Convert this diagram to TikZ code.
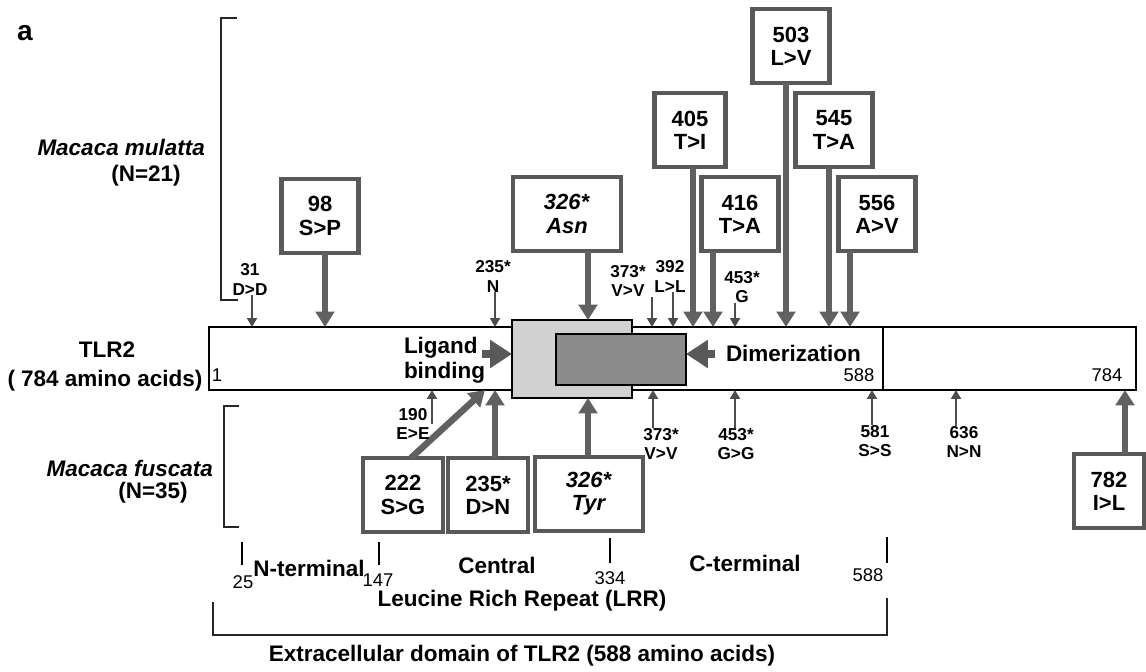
\documentclass[tikz,border=0pt]{standalone}
\usepackage{fontspec}
\setmainfont{Liberation Sans}
\usetikzlibrary{arrows.meta}

\begin{document}
\begin{tikzpicture}[
    x=0.02cm, y=-0.02cm,
    every node/.style={inner sep=0pt, outer sep=0pt},
    mutbox/.style={
        draw=black!65, line width=0.085cm, fill=white,
        align=center,
        minimum width=1.54cm, minimum height=1.48cm,
        font=\fontsize{12.5}{13.2}\selectfont\bfseries
      },
    widebox/.style={mutbox, minimum width=2.16cm},
    sitelabel/.style={align=center, font=\fontsize{9.8}{11}\selectfont\bfseries},
    heading/.style={font=\fontsize{12.8}{14.2}\selectfont\bfseries},
    numlabel/.style={font=\fontsize{10.5}{12}\selectfont},
    bigarrow/.style={draw=black!62, line width=0.13cm,
        -{Triangle[length=0.31cm, width=0.37cm]}},
    thinarrow/.style={draw=black!70, line width=0.04cm,
        -{Triangle[length=0.18cm, width=0.2cm]}},
    blockarrow/.style={draw=black!65, line width=0.18cm,
        -{Triangle[length=0.44cm, width=0.54cm]}},
    bracket/.style={draw=black!85, line width=0.03cm}
  ]

  \useasboundingbox (0,0) rectangle (1146,672);

  % protein bar with the two LRR regions
  \node[draw, line width=0.035cm, fill=white,
        minimum width=18.54cm, minimum height=1.26cm] (bar) at (672.5,358.5) {};
  \coordinate (c588) at (883,327);
  \draw[line width=0.03cm] (c588) -- (c588 |- bar.south);

  \node[draw, line width=0.03cm, fill=black!18,
        minimum width=2.4cm, minimum height=1.56cm] (lig) at (572,359) {};
  \node[draw, line width=0.03cm, fill=black!45,
        minimum width=2.6cm, minimum height=1.02cm] (dim) at (621,359.5) {};

  % sites on top and bottom edge of the bar
  \foreach \n/\px in {31/252, 98/325, 235/495, 326/588, 373/652, 392/673,
                      405/693, 416/713, 453/735, 503/786, 545/829, 556/850}
    \coordinate (t\n) at (\px,327);
  \foreach \n/\px in {190/432, 222/485, 235/495, 326/588, 373/653,
                      453/735, 581/872, 636/956, 782/1125}
    \coordinate (b\n) at (\px,390);

  % side labels
  \node (alabel) at (25,33) {\fontsize{16}{18}\selectfont\bfseries a};
  \node[heading, anchor=east] (mulatta) at (205,147) {\itshape Macaca mulatta};
  \node[heading] (mulattaN) at (146,176) {(N=21)};
  \node[heading, anchor=east] (fuscata) at (213,468) {\itshape Macaca fuscata};
  \node[heading] (fuscataN) at (153,493) {(N=35)};
  \node[heading] (tlr) at (107,350) {TLR2};
  \node[heading] (tlrlen) at (105,381) {( 784 amino acids)};

  \draw[bracket] (237,18) -- (221,18) -- (221,300) -- (238,300);
  \draw[bracket] (239,406) -- (224,406) -- (224,527) -- (239,527);

  % text inside the bar
  \node[heading, align=left, anchor=west] (ligtext) at (404,360) {Ligand\\binding};
  \node[heading, anchor=west] (dimtext) at (726,353) {Dimerization};
  \coordinate (ligtail) at (482,354);
  \coordinate (dimtail) at (715,354);
  \draw[blockarrow] (ligtail) -- (ligtail -| lig.west);
  \draw[blockarrow] (dimtail) -- (dimtail -| dim.east);

  \node[numlabel] (n1) at (217,375) {1};
  \node[numlabel] (n588) at (859,375) {588};
  \node[numlabel] (n784) at (1107,375) {784};

  % Macaca mulatta variants
  \node[mutbox] (m98) at (320,216) {98\\S>P};
  \node[widebox] (m326a) at (567,214) {\textit{326*}\\\textit{Asn}};
  \node[mutbox, minimum width=1.42cm] (m405) at (690,130) {405\\T>I};
  \node[mutbox] (m416) at (740,214) {416\\T>A};
  \node[mutbox] (m503) at (791,46) {503\\L>V};
  \node[mutbox] (m545) at (834,130) {545\\T>A};
  \node[mutbox] (m556) at (877,214) {556\\A>V};

  \draw[bigarrow] (m98.south -| t98) -- (t98);
  \draw[bigarrow] (m326a.south -| t326) -- (lig.north -| t326);
  \draw[bigarrow] (m405.south -| t405) -- (t405);
  \draw[bigarrow] (m416.south -| t416) -- (t416);
  \draw[bigarrow] (m503.south -| t503) -- (t503);
  \draw[bigarrow] (m545.south -| t545) -- (t545);
  \draw[bigarrow] (m556.south -| t556) -- (t556);

  \node[sitelabel] (l31) at (250,279.5) {31\\D>D};
  \draw[thinarrow] (l31.south -| t31) -- (t31);
  \node[sitelabel] (l235t) at (493,276.5) {235*\\N};
  \draw[thinarrow] (l235t.south -| t235) -- (t235);
  \node[sitelabel] (l373t) at (628,281) {373*\\V>V};
  \draw[thinarrow] (l373t.south -| t373) -- (t373);
  \node[sitelabel] (l392) at (670,276.5) {392\\L>L};
  \draw[thinarrow] (l392.south -| t392) -- (t392);
  \node[sitelabel] (l453t) at (742,287) {453*\\G};
  \draw[thinarrow] (l453t.south -| t453) -- (t453);

  % Macaca fuscata variants
  \node[mutbox, minimum width=1.6cm] (m222) at (403,495) {222\\S>G};
  \node[mutbox, minimum width=1.6cm] (m235) at (488,495) {235*\\D>N};
  \node[widebox] (m326b) at (589,494) {\textit{326*}\\\textit{Tyr}};
  \node[mutbox, minimum width=1.4cm] (m782) at (1109,491) {782\\I>L};

  \draw[bigarrow] (m222.78) -- (b222);
  \draw[bigarrow] (m235.north -| b235) -- (b235);
  \draw[bigarrow] (m326b.north -| b326) -- (lig.south -| b326);
  \draw[bigarrow] (m782.north -| b782) -- (b782);

  \node[sitelabel] (l190) at (413,424) {190\\E>E};
  \draw[thinarrow] (l190.east -| b190) -- (b190);
  \node[sitelabel] (l373b) at (661,444) {373*\\V>V};
  \draw[thinarrow] (l373b.north -| b373) -- (b373);
  \node[sitelabel] (l453b) at (736,444) {453*\\G>G};
  \draw[thinarrow] (l453b.north -| b453) -- (b453);
  \node[sitelabel] (l581) at (875,441) {581\\S>S};
  \draw[thinarrow] (l581.north -| b581) -- (b581);
  \node[sitelabel] (l636) at (964,442) {636\\N>N};
  \draw[thinarrow] (l636.north -| b636) -- (b636);

  % LRR subdomains and extracellular domain
  \draw[line width=0.03cm] (242,542) -- (242,565);
  \draw[line width=0.03cm] (379,542) -- (379,565);
  \draw[line width=0.03cm] (610,538) -- (610,563);
  \draw[line width=0.03cm] (887,537) -- (887,563);
  \node[numlabel] (n25) at (243,582) {25};
  \node[numlabel] (n147) at (378,580) {147};
  \node[numlabel] (n334) at (610,578) {334};
  \node[numlabel] (n588b) at (868,575) {588};
  \node[heading] (nterm) at (309,568) {N-terminal};
  \node[heading] (central) at (497,565) {Central};
  \node[heading] (cterm) at (745,563) {C-terminal};
  \node[heading] (lrr) at (522,601) {Leucine Rich Repeat (LRR)};

  \draw[bracket] (213,602) -- (213,635) -- (887,635) -- (887,598);
  \node[heading] (ecd) at (522,656) {Extracellular domain of TLR2 (588 amino acids)};

\end{tikzpicture}
\end{document}
